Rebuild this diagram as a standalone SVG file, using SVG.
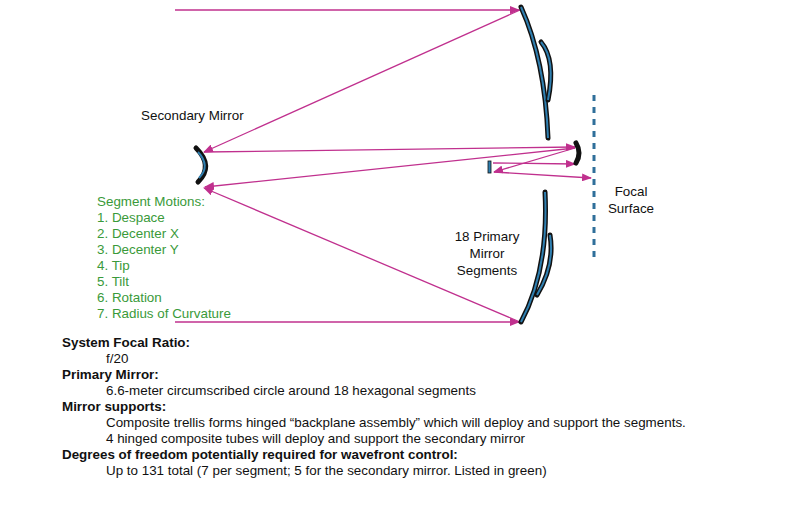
<svg xmlns="http://www.w3.org/2000/svg" width="800" height="510" viewBox="0 0 800 510">
<defs><marker id="a" markerWidth="10" markerHeight="8" refX="9" refY="4" orient="auto" markerUnits="userSpaceOnUse"><path d="M0,0 L10,4 L0,8 Z" fill="#c0308e"/></marker></defs>
<style>
.r{stroke:#c0308e;stroke-width:1.3;fill:none;marker-end:url(#a)}
.mo{stroke:#111;stroke-width:5;fill:none;stroke-linecap:round}
.mi{stroke:#2f7fb0;stroke-width:2;fill:none}
text{font-family:"Liberation Sans",Arial,sans-serif;font-size:13.4px;fill:#111}
.g{fill:#3a9a3a}
.b{font-weight:bold}
</style>
<rect width="800" height="510" fill="#fff"/>
<g id="connectors">
<line class="r" x1="175" y1="10" x2="519" y2="10"/>
<line class="r" x1="520" y1="10" x2="204" y2="152"/>
<line class="r" x1="175" y1="322" x2="519" y2="322"/>
<line class="r" x1="520" y1="322" x2="204" y2="188"/>
<line class="r" x1="204" y1="152" x2="575" y2="147"/>
<line class="r" x1="575" y1="148" x2="205" y2="187"/>
<line class="r" x1="493" y1="163" x2="575" y2="164"/>
<line class="r" x1="575" y1="148" x2="494" y2="172"/>
<line class="r" x1="494" y1="172" x2="591" y2="178"/>
</g>
<g id="primary-upper">
<path class="mo" d="M521,7 Q545,60 548,138"/><path class="mi" d="M521,7 Q545,60 548,138"/>
<path class="mo" d="M541,42 Q556,60 548,100"/><path class="mi" d="M541,42 Q556,60 548,100"/>
</g>
<g id="primary-lower">
<path class="mo" d="M521,322 Q549,270 545,192"/><path class="mi" d="M521,322 Q549,270 545,192"/>
<path class="mo" d="M537,295 Q555,265 550,235"/><path class="mi" d="M537,295 Q555,265 550,235"/>
</g>
<g id="secondary">
<path class="mo" d="M196,148 Q214,166 198,182" stroke-width="7"/><path class="mi" d="M198,152 Q211,166 199,178" stroke-width="3"/>
</g>
<g id="tertiary">
<path class="mo" d="M576,143 Q582,153 576,163" stroke-width="3"/>
<rect x="488" y="161" width="3" height="12" fill="#2f7fb0" stroke="#111" stroke-width="0.8"/>
</g>
<g id="focal-surface">
<line x1="594" y1="95" x2="594" y2="262" stroke="#2f6f9a" stroke-width="3" stroke-dasharray="6,6"/>
<text x="631" y="196" text-anchor="middle" font-size="14">Focal</text>
<text x="631" y="213" text-anchor="middle" font-size="14">Surface</text>
</g>
<g id="labels">
<text x="141" y="120" font-size="14">Secondary Mirror</text>
<text x="487" y="241" text-anchor="middle" font-size="14">18 Primary</text>
<text x="487" y="258" text-anchor="middle" font-size="14">Mirror</text>
<text x="487" y="275" text-anchor="middle" font-size="14">Segments</text>
<text class="g" x="97" y="206">Segment Motions:</text>
<text class="g" x="97" y="222">1. Despace</text>
<text class="g" x="97" y="238">2. Decenter X</text>
<text class="g" x="97" y="254">3. Decenter Y</text>
<text class="g" x="97" y="270">4. Tip</text>
<text class="g" x="97" y="286">5. Tilt</text>
<text class="g" x="97" y="302">6. Rotation</text>
<text class="g" x="97" y="318">7. Radius of Curvature</text>
</g>
<g id="notes">
<text class="b" x="62" y="347">System Focal Ratio:</text>
<text x="106" y="363">f/20</text>
<text class="b" x="62" y="379">Primary Mirror:</text>
<text x="106" y="395">6.6-meter circumscribed circle around 18 hexagonal segments</text>
<text class="b" x="62" y="411">Mirror supports:</text>
<text x="106" y="427">Composite trellis forms hinged “backplane assembly” which will deploy and support the segments.</text>
<text x="106" y="443">4 hinged composite tubes will deploy and support the secondary mirror</text>
<text class="b" x="62" y="459">Degrees of freedom potentially required for wavefront control:</text>
<text x="106" y="475">Up to 131 total (7 per segment; 5 for the secondary mirror. Listed in green)</text>
</g>
</svg>
